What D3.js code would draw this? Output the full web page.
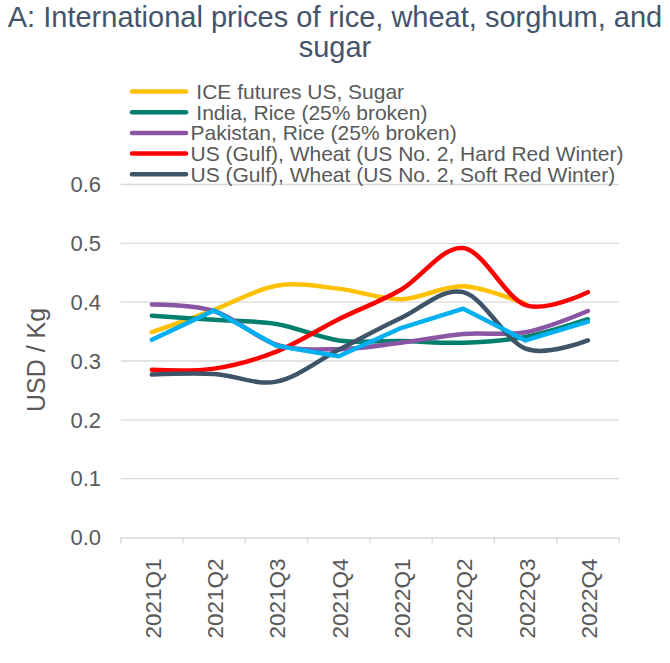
<!DOCTYPE html>
<html lang="en">
  <head>
    <meta charset="UTF-8" />
    <title>International prices of rice, wheat, sorghum, and sugar</title>
    <script src="https://d3js.org/d3.v7.min.js"></script>
    <style>
      body {
        margin: 0;
        background: #fff;
      }
      svg {
        font-family: "Liberation Sans", Arial, sans-serif;
      }
      .legend text {
        white-space: pre;
      }
    </style>
  </head>
  <body>
    <svg width="670" height="663"></svg>

    <script>
      // quarters on the x axis
      const quarters = ["2021Q1", "2021Q2", "2021Q3", "2021Q4", "2022Q1", "2022Q2", "2022Q3", "2022Q4"];

      // USD per kg
      const sugar = [0.349, 0.387, 0.428, 0.423, 0.405, 0.427, 0.397, null];
      const indiaRice = [0.377, 0.370, 0.363, 0.335, 0.334, 0.331, 0.341, 0.371];
      const pakistanRice = [0.396, 0.385, 0.328, 0.320, 0.331, 0.346, 0.349, 0.385];
      const wheatHRW = [0.285, 0.287, 0.316, 0.371, 0.421, 0.492, 0.395, 0.417];
      const wheatSRW = [0.277, 0.278, 0.265, 0.319, 0.373, 0.417, 0.321, 0.335];
      const sorghum = [0.336, 0.386, 0.326, 0.308, 0.356, 0.389, 0.335, 0.367];

      const yTicks = [0, 0.1, 0.2, 0.3, 0.4, 0.5, 0.6];

      const series = [
        { name: " ICE futures US, Sugar", values: sugar, color: "#FFC000", smooth: true, legend: true },
        { name: " India, Rice (25% broken)", values: indiaRice, color: "#00806C", smooth: true, legend: true },
        { name: "Pakistan, Rice (25% broken)", values: pakistanRice, color: "#8A55A3", smooth: true, legend: true },
        { name: "US (Gulf), Wheat (US No. 2, Hard Red Winter)", values: wheatHRW, color: "#FF0000", smooth: true, legend: true },
        { name: "US (Gulf), Wheat (US No. 2, Soft Red Winter)", values: wheatSRW, color: "#3E5468", smooth: true, legend: true },
        { name: "US (Gulf), Sorghum", values: sorghum, color: "#00B0F0", smooth: false, legend: false },
      ];

      const svg = d3.select("svg");
      const plotLeft = 120.7, plotRight = 619, plotTop = 184.5, plotBottom = 537.5;

      const x = d3.scaleBand().domain(quarters).range([plotLeft, plotRight]);
      const y = d3.scaleLinear().domain([0, 0.6]).range([plotBottom, plotTop]);

      // title
      const title = svg.append("text")
        .attr("x", 335)
        .attr("y", 27)
        .attr("text-anchor", "middle")
        .attr("fill", "#44546A")
        .style("font-size", "29px");
      title.append("tspan").attr("x", 335).text("A: International prices of rice, wheat, sorghum, and");
      title.append("tspan").attr("x", 335).attr("dy", 30).text("sugar");

      // grid lines
      svg.append("g")
        .selectAll("line")
        .data(yTicks.filter((d) => d > 0))
        .join("line")
        .attr("x1", plotLeft)
        .attr("x2", plotRight)
        .attr("y1", (d) => y(d))
        .attr("y2", (d) => y(d))
        .attr("stroke", "#D9D9D9")
        .attr("stroke-width", 1.3);

      // y axis labels
      svg.append("g")
        .selectAll("text")
        .data(yTicks)
        .join("text")
        .attr("x", 101)
        .attr("y", (d) => y(d))
        .attr("dy", "0.35em")
        .attr("text-anchor", "end")
        .attr("fill", "#595959")
        .style("font-size", "22px")
        .text((d) => d.toFixed(1));

      svg.append("text")
        .attr("transform", "translate(45,360) rotate(-90)")
        .attr("text-anchor", "middle")
        .attr("fill", "#595959")
        .style("font-size", "25px")
        .text("USD / Kg");

      // x axis
      const xAxis = d3.axisBottom(x).tickSize(0).tickPadding(0);
      const gx = svg.append("g").attr("transform", `translate(0,${plotBottom})`).call(xAxis);
      gx.select(".domain").attr("stroke", "#D9D9D9").attr("stroke-width", 1.5);
      gx.selectAll(".tick text")
        .attr("transform", "rotate(-90)")
        .attr("x", -21)
        .attr("y", 0)
        .attr("dy", "0.4em")
        .attr("text-anchor", "end")
        .attr("fill", "#595959")
        .style("font-size", "22.5px")
        .style("font-family", "'Liberation Sans', Arial, sans-serif");

      // tick marks at band edges
      const edges = quarters.map((q) => x(q)).concat([plotRight]);
      svg.append("g")
        .selectAll("line")
        .data(edges)
        .join("line")
        .attr("x1", (d) => d)
        .attr("x2", (d) => d)
        .attr("y1", plotBottom)
        .attr("y2", plotBottom + 6)
        .attr("stroke", "#D9D9D9")
        .attr("stroke-width", 1.3);

      // lines
      const cx = (i) => x(quarters[i]) + x.bandwidth() / 2;
      series.forEach((s) => {
        const line = d3.line()
          .defined((d) => d != null)
          .x((d, i) => cx(i))
          .y((d) => y(d))
          .curve(s.smooth ? d3.curveCatmullRom.alpha(0) : d3.curveLinear);
        svg.append("path")
          .datum(s.values)
          .attr("d", line)
          .attr("fill", "none")
          .attr("stroke", s.color)
          .attr("stroke-width", 4.5)
          .attr("stroke-linecap", "round")
          .attr("stroke-linejoin", "round");
      });

      // legend
      const legend = svg.append("g").attr("class", "legend");
      const rows = legend.selectAll("g")
        .data(series.filter((s) => s.legend))
        .join("g")
        .attr("transform", (d, i) => `translate(0,${91.5 + i * 20.7})`);
      rows.append("line")
        .attr("x1", 132)
        .attr("x2", 186)
        .attr("stroke", (d) => d.color)
        .attr("stroke-width", 4.5)
        .attr("stroke-linecap", "round");
      rows.append("text")
        .attr("x", 190.5)
        .attr("dy", "0.35em")
        .attr("fill", "#595959")
        .style("font-size", "21px")
        .text((d) => d.name);
    </script>
  </body>
</html>
